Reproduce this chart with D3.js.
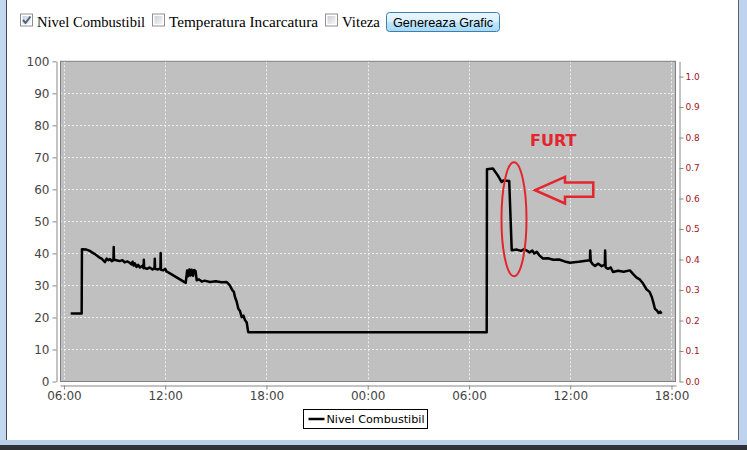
<!DOCTYPE html>
<html>
<head>
<meta charset="utf-8">
<script src="https://cdn.jsdelivr.net/npm/d3@7"></script>
<style>
  body { margin: 0; background: #fff; }
  svg { display: block; }
</style>
</head>
<body>
<svg id="chart" width="747" height="450"></svg>
<script>
// Fuel level readings, two days (time, value)
var day1 = "2012-05-21 ", day2 = "2012-05-22 ";

var fuelTimes = [
    "06:24", "07:03", "07:04", "07:20", "07:32", "07:40", "07:50", "07:58", "08:05", "08:14",
    "08:20", "08:26", "08:32", "08:38", "08:44", "08:50", "08:56", "08:57", "08:58", "09:10",
    "09:19", "09:28", "09:36", "09:45", "09:55", "10:00", "10:04", "10:08", "10:12", "10:18",
    "10:24", "10:30", "10:38", "10:43", "10:44", "10:45", "10:55", "11:05", "11:15", "11:22",
    "11:23", "11:24", "11:34", "11:43", "11:44", "11:45", "11:53", "12:00", "12:05", "12:11",
    "13:13", "13:18", "13:22", "13:26", "13:30", "13:34", "13:39", "13:43", "13:48", "13:52",
    "14:00", "14:10", "14:20", "14:39", "15:00", "15:20", "15:38", "15:50", "15:58", "16:04",
    "16:08", "16:14", "16:20", "16:26", "16:32", "16:38", "16:44", "16:50", "16:55"
].map(function (t) { return day1 + t; }).concat([
    "07:03", "07:04", "07:25", "07:35", "07:45", "07:56", "08:02", "08:23", "08:32", "08:50",
    "09:05", "09:15", "09:26", "09:35", "09:45", "09:52", "10:01", "10:10", "10:23", "10:40",
    "11:00", "11:20", "11:40", "11:59", "12:30", "13:10", "13:11", "13:13", "13:20", "13:28",
    "13:40", "13:52", "14:03", "14:04", "14:06", "14:14", "14:24", "14:32", "14:50", "15:10",
    "15:32", "15:43", "15:55", "16:08", "16:19", "16:30", "16:42", "16:50", "16:56", "17:01",
    "17:08", "17:14", "17:20", "17:25"
].map(function (t) { return day2 + t; }));

var fuelValues = [
    21.2, 21.2, 41.3, 41.2, 40.8, 40.3, 39.8, 39.3, 38.8, 38.4,
    37.8, 37.3, 38.4, 37.9, 38.2, 37.6, 37.9, 42.0, 38.0, 37.8,
    37.6, 37.9, 37.2, 37.5, 37.0, 36.6, 37.4, 36.2, 36.9, 35.8,
    36.4, 35.6, 36.1, 35.4, 38.0, 35.5, 35.2, 35.6, 35.0, 35.4,
    38.3, 35.2, 35.0, 35.3, 40.1, 34.9, 34.7, 35.2, 34.3, 34.1,
    30.8, 34.7, 32.9, 35.0, 33.1, 34.9, 33.0, 34.8, 34.5, 31.6,
    31.9, 31.2, 31.5, 31.1, 31.3, 31.0, 31.1, 30.0, 28.6, 28.0,
    26.4, 25.0, 22.7, 22.0, 20.1, 20.6, 19.1, 18.4, 15.4,
    15.4, 66.3, 66.5, 65.3, 64.0, 62.3, 62.8, 62.6, 41.0, 41.2,
    40.8, 41.3, 40.9, 40.3, 40.9, 40.0, 40.5, 39.4, 38.4, 38.5,
    38.0, 38.1, 37.5, 37.1, 37.4, 37.9, 40.9, 37.5, 36.6, 36.1,
    36.8, 36.0, 36.5, 40.9, 35.6, 35.2, 35.6, 34.2, 34.6, 34.3,
    34.7, 33.6, 32.5, 31.8, 30.6, 28.9, 28.0, 26.4, 24.5, 22.7,
    22.2, 21.4, 21.8, 21.2
];

var leftTicks = [0, 10, 20, 30, 40, 50, 60, 70, 80, 90, 100];
var rightTicks = [0, 0.1, 0.2, 0.3, 0.4, 0.5, 0.6, 0.7, 0.8, 0.9, 1.0];
var checkLabels = ["Nivel Combustibil", "Temperatura Incarcatura", "Viteza"];
var seriesName = "Nivel Combustibil";
var theftTime = day2 + "08:40", theftLevel = 50.7;

var parse = d3.timeParse("%Y-%m-%d %H:%M");
var data = fuelTimes.map(function (t, i) { return { t: parse(t), v: fuelValues[i] }; });

var svg = d3.select("#chart");

// Plot area
var plot = { left: 60, right: 676, top: 61.3, bottom: 381.5 };

var x = d3.scaleTime()
    .domain([parse(day1 + "05:46"), parse(day2 + "18:16")])
    .range([plot.left, plot.right]);
var y = d3.scaleLinear().domain([0, 100]).range([plot.bottom, plot.top]);
var y2 = d3.scaleLinear().domain([0, 1.05]).range([plot.bottom, plot.top]);

// Window frame
svg.append("rect").attr("x", 0).attr("y", 0).attr("width", 6).attr("height", 450).attr("fill", "#c3d7ee");
svg.append("line").attr("x1", 6.5).attr("x2", 6.5).attr("y1", 0).attr("y2", 441).attr("stroke", "#404a55");
svg.append("rect").attr("x", 739).attr("y", 0).attr("width", 8).attr("height", 450).attr("fill", "#bed4ee");
svg.append("line").attr("x1", 738.5).attr("x2", 738.5).attr("y1", 0).attr("y2", 441).attr("stroke", "#5a6470");
svg.append("rect").attr("x", 0).attr("y", 440).attr("width", 747).attr("height", 5).attr("fill", "#b8cfe9");
svg.append("rect").attr("x", 0).attr("y", 445).attr("width", 747).attr("height", 5).attr("fill", "#2e3236");

// Top controls: checkboxes and button
var defs = svg.append("defs");
var bg = defs.append("linearGradient").attr("id", "btn").attr("x1", 0).attr("x2", 0).attr("y1", 0).attr("y2", 1);
bg.append("stop").attr("offset", "0%").attr("stop-color", "#eaf6fd");
bg.append("stop").attr("offset", "50%").attr("stop-color", "#d9f0fc");
bg.append("stop").attr("offset", "51%").attr("stop-color", "#bee6fd");
bg.append("stop").attr("offset", "100%").attr("stop-color", "#a7d9f5");
var cg = defs.append("linearGradient").attr("id", "chk").attr("x1", 0).attr("x2", 1).attr("y1", 0).attr("y2", 1);
cg.append("stop").attr("offset", "0%").attr("stop-color", "#cbcfd5");
cg.append("stop").attr("offset", "100%").attr("stop-color", "#f6f6f6");

var checkX = [20.5, 152.5, 325.5];
var labelWidth = [108, 149, 38];
checkLabels.forEach(function (lab, i) {
    var g = svg.append("g").attr("transform", "translate(" + checkX[i] + ",14)");
    g.append("rect").attr("width", 12).attr("height", 12).attr("fill", "#fff").attr("stroke", "#8e8f8f");
    g.append("rect").attr("x", 2).attr("y", 2).attr("width", 8).attr("height", 8).attr("fill", "url(#chk)");
    if (i === 0) {
        g.append("path").attr("d", "M2.5,6 L5,9 L10,2.5").attr("fill", "none")
            .attr("stroke", "#4d6185").attr("stroke-width", 2);
    }
    svg.append("text").attr("x", checkX[i] + 16.5).attr("y", 26.5)
        .attr("font-family", "Liberation Serif, serif").attr("font-size", 14.8)
        .attr("textLength", labelWidth[i]).attr("lengthAdjust", "spacingAndGlyphs")
        .attr("fill", "#000").text(lab);
});

svg.append("rect").attr("x", 386.5).attr("y", 12.5).attr("width", 113).attr("height", 19).attr("rx", 3)
    .attr("fill", "url(#btn)").attr("stroke", "#3c7fb1");
svg.append("text").attr("x", 443).attr("y", 26.5).attr("text-anchor", "middle")
    .attr("font-family", "Liberation Sans, Arial, sans-serif").attr("font-size", 12.7)
    .attr("fill", "#000").text("Genereaza Grafic");

// Plot background
svg.append("rect")
    .attr("x", plot.left).attr("y", plot.top)
    .attr("width", plot.right - plot.left).attr("height", plot.bottom - plot.top)
    .attr("fill", "#c0c0c0");

// Grid lines
var xTicks = x.ticks(d3.timeHour.every(6));
svg.append("g").selectAll("line").data(xTicks).join("line")
    .attr("x1", function (d) { return Math.round(x(d)) + 0.5; })
    .attr("x2", function (d) { return Math.round(x(d)) + 0.5; })
    .attr("y1", plot.top).attr("y2", plot.bottom)
    .attr("stroke", "#f0f0f0").attr("stroke-dasharray", "2,2");
svg.append("g").selectAll("line").data(leftTicks.slice(1, -1)).join("line")
    .attr("x1", plot.left).attr("x2", plot.right)
    .attr("y1", function (d) { return Math.round(y(d)) + 0.5; })
    .attr("y2", function (d) { return Math.round(y(d)) + 0.5; })
    .attr("stroke", "#f0f0f0").attr("stroke-dasharray", "2,2");

svg.append("rect")
    .attr("x", plot.left + 0.5).attr("y", plot.top)
    .attr("width", plot.right - plot.left - 1).attr("height", plot.bottom - plot.top)
    .attr("fill", "none").attr("stroke", "#808080");

// Axes
function styleAxis(g, color) {
    g.select(".domain").attr("stroke", "#888");
    g.selectAll(".tick line").attr("stroke", "#888");
    g.selectAll(".tick text").attr("fill", color).attr("font-family", "DejaVu Sans, sans-serif");
}

var leftAxis = svg.append("g").attr("transform", "translate(56.5,0)")
    .call(d3.axisLeft(y).tickValues(leftTicks).tickSize(4).tickSizeOuter(0).tickPadding(3));
styleAxis(leftAxis, "#444");
leftAxis.selectAll(".tick text").attr("font-size", 12);

var bottomAxis = svg.append("g").attr("transform", "translate(0,385.5)")
    .call(d3.axisBottom(x).ticks(d3.timeHour.every(6)).tickFormat(d3.timeFormat("%H:%M"))
        .tickSize(4).tickSizeOuter(0).tickPadding(2));
styleAxis(bottomAxis, "#444");
bottomAxis.selectAll(".tick text").attr("font-size", 12);

var rightAxis = svg.append("g").attr("transform", "translate(679.5,0)")
    .call(d3.axisRight(y2).tickValues(rightTicks).tickFormat(d3.format(".1f"))
        .tickSize(4).tickSizeOuter(0).tickPadding(2));
styleAxis(rightAxis, "#a01424");
rightAxis.selectAll(".tick text").attr("font-size", 9);

// Fuel line
var line = d3.line()
    .x(function (d) { return x(d.t); })
    .y(function (d) { return y(d.v); });

svg.append("path").datum(data)
    .attr("d", line)
    .attr("fill", "none")
    .attr("stroke", "#000")
    .attr("stroke-width", 2.5)
    .attr("stroke-linejoin", "round");

// Theft annotation
var red = "#e3262e";
var cx = x(parse(theftTime)), cy = y(theftLevel);
svg.append("ellipse").attr("cx", cx).attr("cy", cy).attr("rx", 12.5).attr("ry", 57)
    .attr("fill", "none").attr("stroke", red).attr("stroke-width", 2);
svg.append("text").attr("x", cx + 16).attr("y", cy - 73)
    .attr("font-family", "DejaVu Sans, sans-serif").attr("font-weight", "bold").attr("font-size", 16)
    .attr("fill", red).text("FURT");
var arrow = [[21, -29], [51, -42.3], [51, -36.7], [79.3, -36.7], [79.3, -22.3], [51, -22.3], [51, -15.7]];
svg.append("polygon")
    .attr("points", arrow.map(function (p) { return (cx + p[0]) + "," + (cy + p[1]); }).join(" "))
    .attr("fill", "none").attr("stroke", red).attr("stroke-width", 2.5);

// Legend
var legend = svg.append("g").attr("transform", "translate(303.5,409.5)");
legend.append("rect").attr("width", 124).attr("height", 19).attr("fill", "#fff").attr("stroke", "#000");
legend.append("line").attr("x1", 5).attr("x2", 21).attr("y1", 9.5).attr("y2", 9.5)
    .attr("stroke", "#000").attr("stroke-width", 2.5);
legend.append("text").attr("x", 23).attr("y", 13.5)
    .attr("font-family", "DejaVu Sans, sans-serif").attr("font-size", 11.2)
    .attr("fill", "#000").text(seriesName);
</script>
</body>
</html>
